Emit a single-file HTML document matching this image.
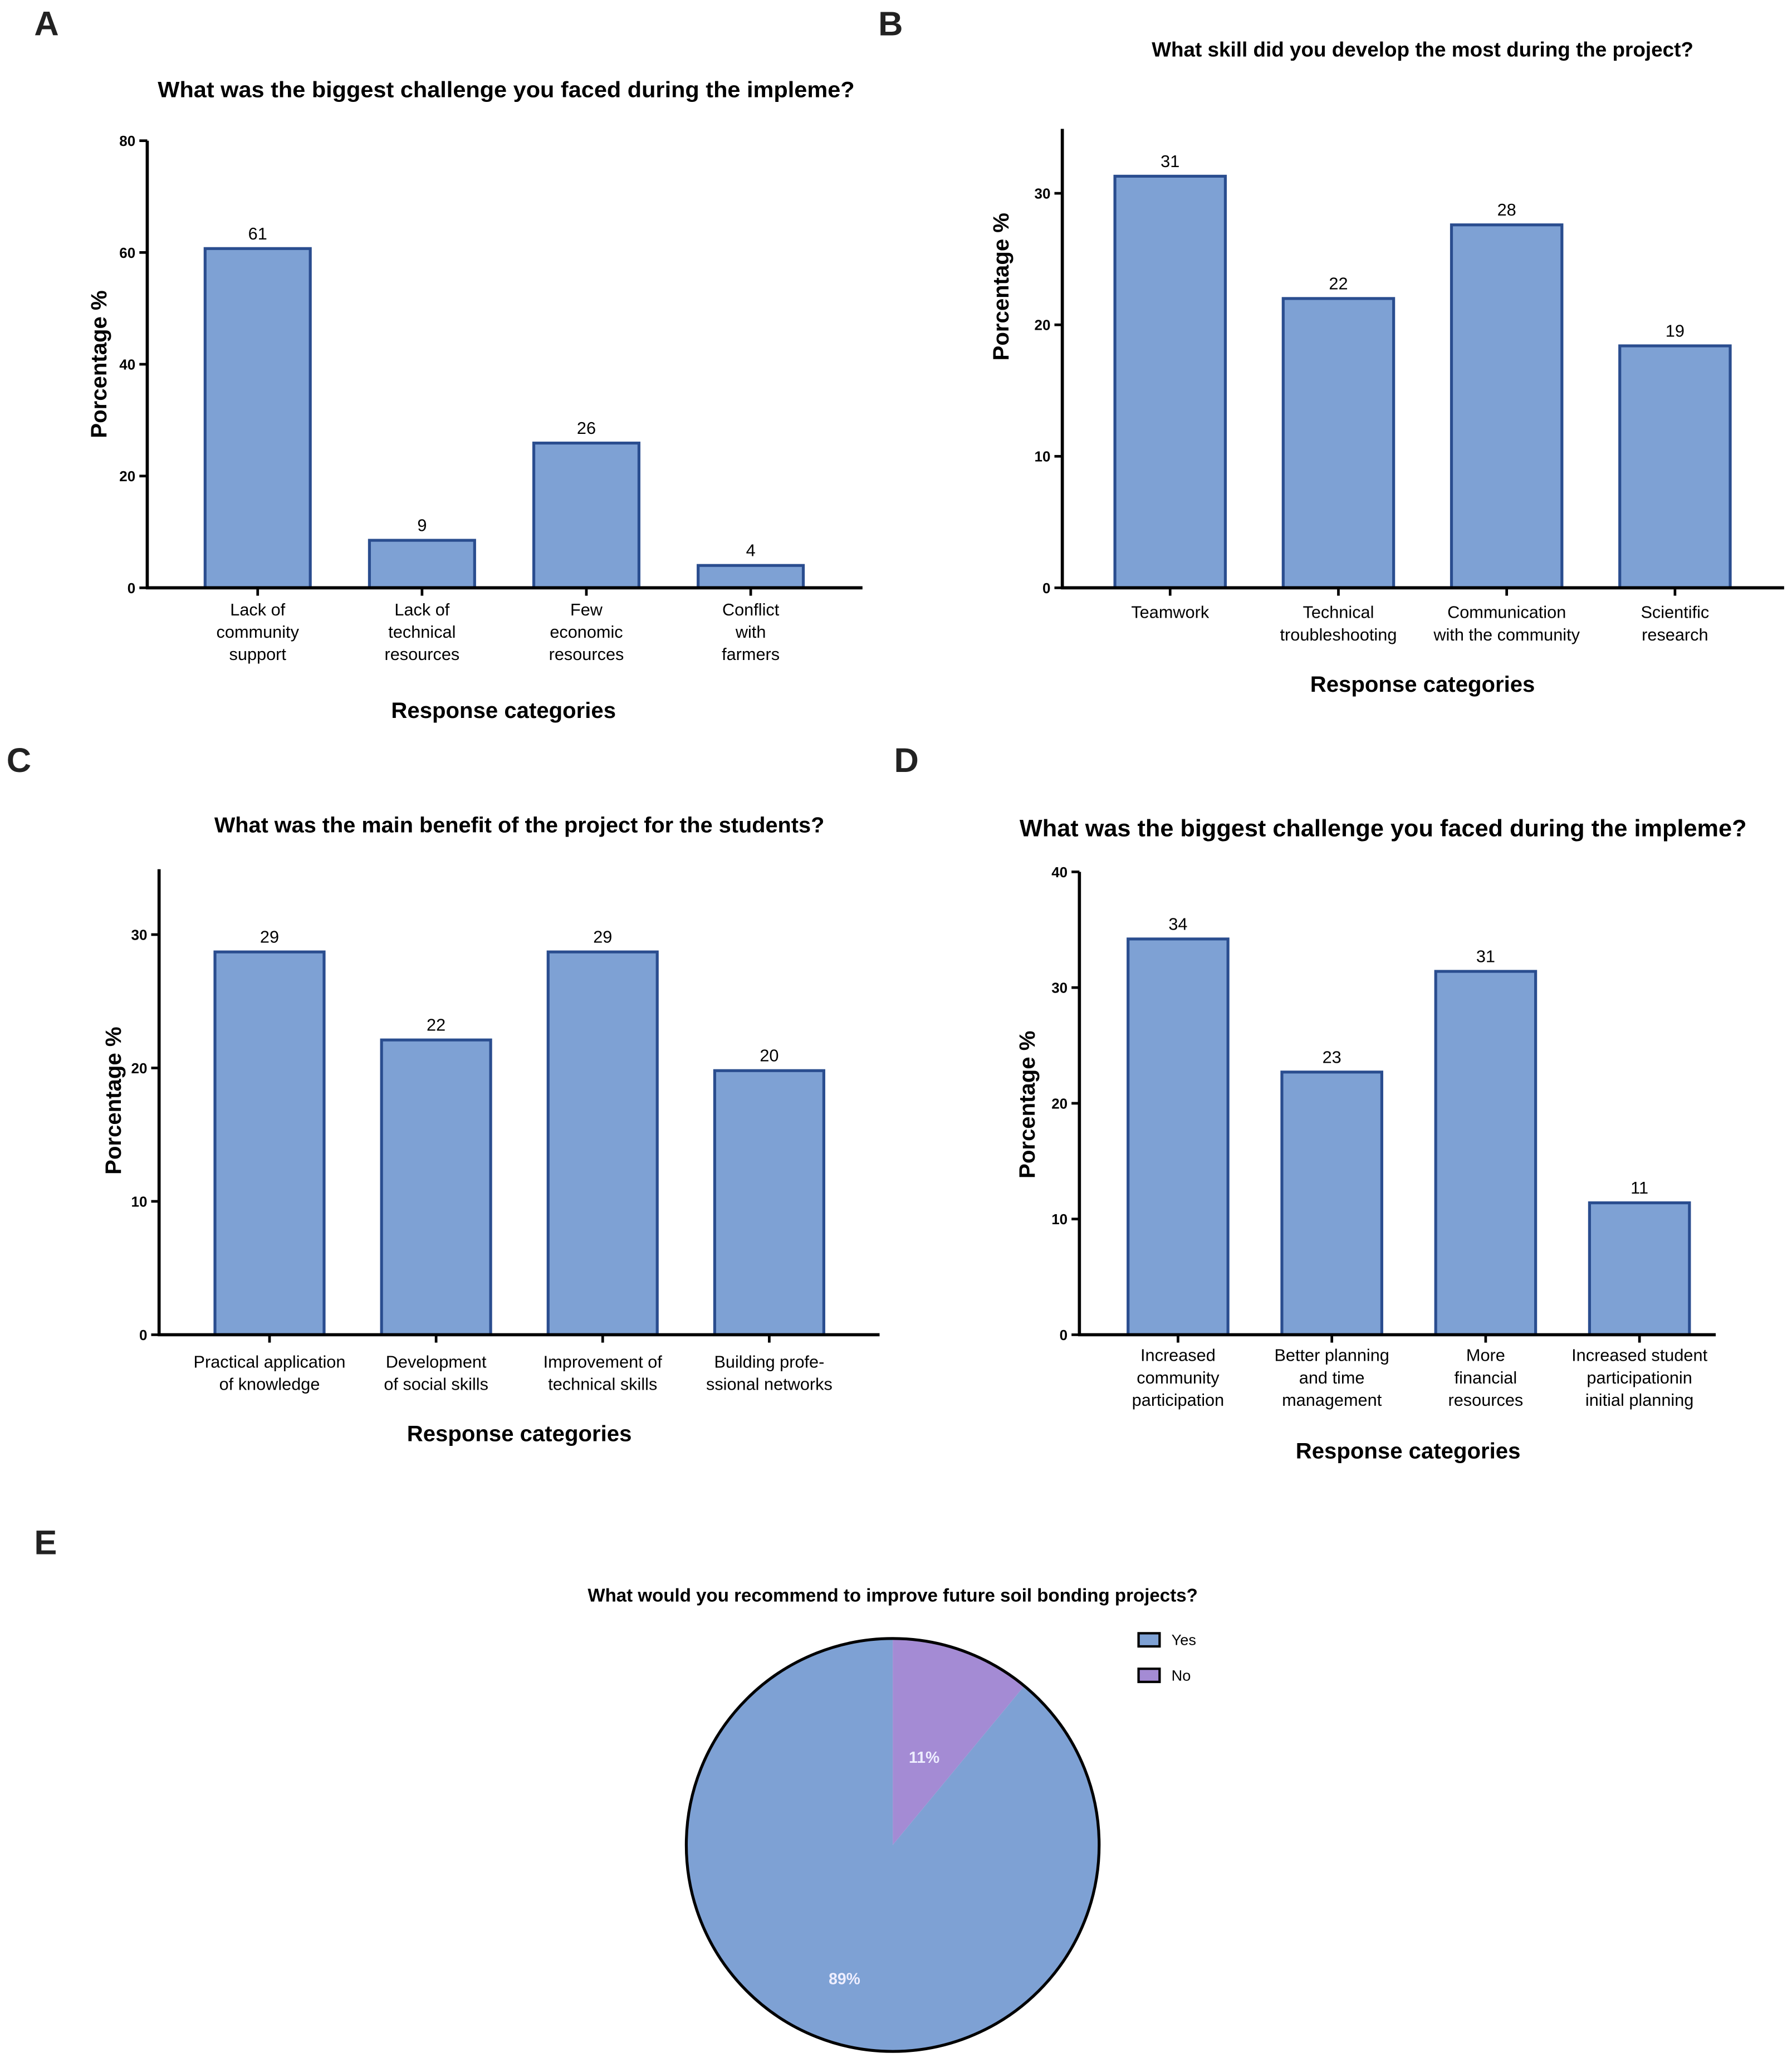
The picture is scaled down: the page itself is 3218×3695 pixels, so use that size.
<!DOCTYPE html>
<html><head><meta charset="utf-8"><style>
html,body{margin:0;padding:0;background:#fff;}
svg{display:block;font-family:"Liberation Sans",Arial,sans-serif;}
</style></head><body>
<svg id="fig" width="3218" height="3695" viewBox="0 0 1363 1565" preserveAspectRatio="none" xmlns="http://www.w3.org/2000/svg">
<rect width="1363" height="1565" fill="#fff"/>
</svg>
<script>
const catsA=[["Lack of","community","support"],["Lack of","technical","resources"],["Few","economic","resources"],["Conflict","with","farmers"]];
const valsA=[60.7,8.5,25.9,4.0];
const lblA=["61","9","26","4"];
const ticksA=[0,20,40,60,80];
const catsB=[["Teamwork"],["Technical","troubleshooting"],["Communication","with the community"],["Scientific","research"]];
const valsB=[31.3,22.0,27.6,18.4];
const lblB=["31","22","28","19"];
const ticksB=[0,10,20,30];
const catsC=[["Practical application","of knowledge"],["Development","of social skills"],["Improvement of","technical skills"],["Building profe-","ssional networks"]];
const valsC=[28.7,22.1,28.7,19.8];
const lblC=["29","22","29","20"];
const ticksC=[0,10,20,30];
const catsD=[["Increased","community","participation"],["Better planning","and time","management"],["More","financial","resources"],["Increased student","participationin","initial planning"]];
const valsD=[34.2,22.7,31.4,11.4];
const lblD=["34","23","31","11"];
const ticksD=[0,10,20,30,40];
const pieLabels=["No","Yes"];
const pieVals=[11,89];

const NS="http://www.w3.org/2000/svg";
const svg=document.getElementById('fig');
function el(tag,attrs,parent,text){const e=document.createElementNS(NS,tag);for(const k in attrs)e.setAttribute(k,attrs[k]);if(text!==undefined)e.textContent=text;(parent||svg).appendChild(e);return e;}

function bar(cfg,cats,vals,lbls,ticks){
  const g=el('g',{});
  
  
  const y=v=>cfg.y0-(v/cfg.max)*(cfg.y0-cfg.yTop);
  const x=i=>cfg.c0+i*cfg.step;
  const t=el('text',{x:cfg.tx,y:cfg.ty,'text-anchor':'middle','font-size':cfg.tfs,'font-weight':'bold',textLength:cfg.tw,lengthAdjust:'spacingAndGlyphs'},g,cfg.title);
  
  
  const L=el('text',{x:cfg.lx,y:cfg.ly,'font-size':26,'font-weight':'bold',fill:'#222'},g,cfg.letter);
  
  
  vals.forEach((v,i)=>{
    const r=el('rect',{x:x(i)-cfg.bw/2,y:y(v),width:cfg.bw,height:cfg.y0-y(v),fill:'#7ea1d4',stroke:'#2a4d8f','stroke-width':2.2},g);
    
    
    const vl=el('text',{x:x(i),y:y(v)-7,'text-anchor':'middle','font-size':13},g,lbls[i]);
    
    
    el('line',{x1:x(i),x2:x(i),y1:cfg.y0,y2:cfg.y0+6,stroke:'#000','stroke-width':2},g);
    cats[i].forEach((ln,j)=>{
      const c=el('text',{x:x(i),y:cfg.catY+j*17,'text-anchor':'middle','font-size':13},g,ln);
      
      
    });
  });
  el('line',{x1:cfg.ax,x2:cfg.ax,y1:cfg.yTop,y2:cfg.y0+1,stroke:'#000','stroke-width':2.4},g);
  el('line',{x1:cfg.ax-1,x2:cfg.xEnd,y1:cfg.y0,y2:cfg.y0,stroke:'#000','stroke-width':2.4},g);
  ticks.forEach(tv=>{
    el('line',{x1:cfg.ax-6,x2:cfg.ax,y1:y(tv),y2:y(tv),stroke:'#000','stroke-width':2},g);
    const tl=el('text',{x:cfg.ax-9,y:y(tv)+4,'text-anchor':'end','font-size':11,'font-weight':'bold'},g,String(tv));
    
    
  });
  const xt=el('text',{x:cfg.xtx,y:cfg.xty,'text-anchor':'middle','font-size':17,'font-weight':'bold'},g,'Response categories');
  
  
  const yt=el('text',{x:0,y:0,'text-anchor':'middle','font-size':17,'font-weight':'bold',transform:`translate(${cfg.ytx},${cfg.yty}) rotate(-90)`},g,'Porcentage %');
  
  
}

bar({name:'chart-a',letter:'A',lx:26,ly:27,title:'What was the biggest challenge you faced during the impleme?',tx:385,ty:74,tfs:17,tw:530,ax:112,y0:447,yTop:107,max:80,xEnd:656,c0:196,step:125,bw:80,catY:468,xtx:383,xty:546,ytx:81,yty:277},catsA,valsA,lblA,ticksA);
bar({name:'chart-b',letter:'B',lx:668,ly:27,title:'What skill did you develop the most during the project?',tx:1082,ty:43,tfs:15.5,tw:412,ax:808,y0:447,yTop:98,max:34.9,xEnd:1357,c0:890,step:128,bw:84,catY:470,xtx:1082,xty:526,ytx:767,yty:218},catsB,valsB,lblB,ticksB);
bar({name:'chart-c',letter:'C',lx:5,ly:587,title:'What was the main benefit of the project for the students?',tx:395,ty:633,tfs:16.5,tw:464,ax:121,y0:1015,yTop:661,max:34.9,xEnd:669,c0:205,step:126.7,bw:83,catY:1040,xtx:395,xty:1096,ytx:92,yty:837},catsC,valsC,lblC,ticksC);
bar({name:'chart-d',letter:'D',lx:680,ly:587,title:'What was the biggest challenge you faced  during the impleme?',tx:1052,ty:636,tfs:18,tw:553,ax:821,y0:1015,yTop:663,max:40,xEnd:1305,c0:896,step:117,bw:76,catY:1035,xtx:1071,xty:1109,ytx:787,yty:840},catsD,valsD,lblD,ticksD);

// Pie E
const pg=el('g',{});


const LE=el('text',{x:26,y:1182,'font-size':26,'font-weight':'bold',fill:'#222'},pg,'E');


const te=el('text',{x:679,y:1218,'text-anchor':'middle','font-size':14,'font-weight':'bold',textLength:464,lengthAdjust:'spacingAndGlyphs'},pg,'What would you recommend to improve future soil bonding projects?');


const cx=679,cy=1403,R=157;const colors=['#a48bd4','#7ea1d4'];
const total=pieVals.reduce((a,b)=>a+b,0);let acc=0;
pieVals.forEach((v,i)=>{
  const a0=acc/total*2*Math.PI;acc+=v;const a1=acc/total*2*Math.PI;
  const p=(a)=>[cx+R*Math.sin(a),cy-R*Math.cos(a)];
  const [x0,y0]=p(a0),[x1,y1]=p(a1);
  const large=(a1-a0)>Math.PI?1:0;
  const s=el('path',{d:`M${cx},${cy} L${x0},${y0} A${R},${R} 0 ${large} 1 ${x1},${y1} Z`,fill:colors[i]},pg);
  
  
  const am=(a0+a1)/2;const rr=i===0?0.45:0.69;
  const lt=el('text',{x:cx+rr*R*Math.sin(am),y:cy-rr*R*Math.cos(am)+4,'text-anchor':'middle','font-size':12,'font-weight':'bold',fill:'#eef'},pg,Math.round(v/total*100)+'%');
  
  
});
el('circle',{cx:cx,cy:cy,r:R,fill:'none',stroke:'#000','stroke-width':2.2},pg);
[['Yes','#7ea1d4',1247],['No','#a48bd4',1274]].forEach(([n,c,yy])=>{
  const lg=el('g',{},pg);
  
  
  el('rect',{x:866,y:yy-5,width:16,height:10,fill:c,stroke:'#000','stroke-width':1.8},lg);
  el('text',{x:891,y:yy+4,'font-size':11.5},lg,n);
});
</script>
</body></html>
